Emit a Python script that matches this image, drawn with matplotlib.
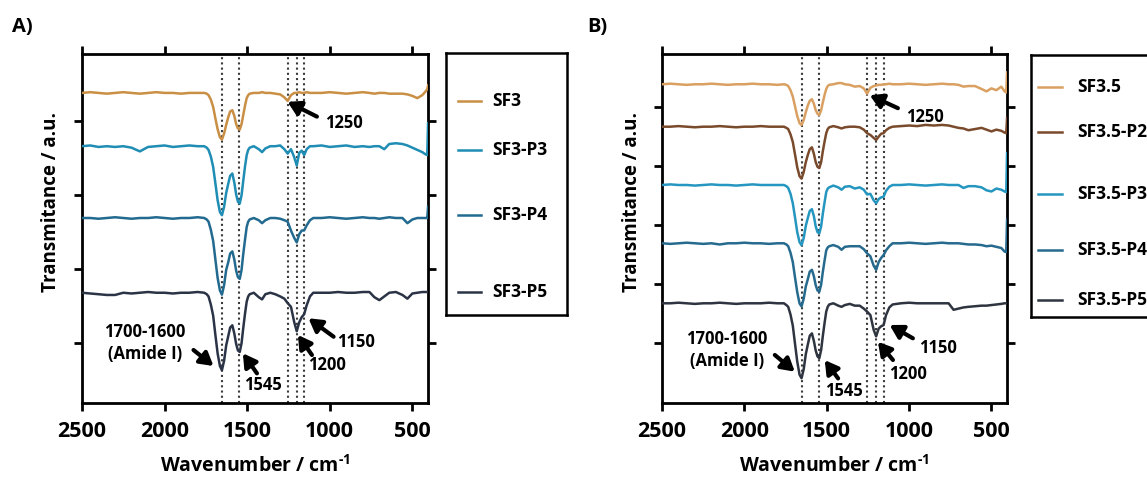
import numpy as np
import matplotlib
matplotlib.use('Agg')
import matplotlib.pyplot as plt

plt.rcParams['font.family'] = ['Open Sans', 'DejaVu Sans']
plt.rcParams['font.weight'] = 'bold'
plt.rcParams['mathtext.fontset'] = 'custom'
plt.rcParams['mathtext.rm'] = 'Open Sans:bold'
plt.rcParams['mathtext.bf'] = 'Open Sans:bold'

# ---------------- data (wavenumber grid, cm-1) ----------------
wavenumber = (
    [2500, 2450, 2400, 2350, 2300, 2250, 2200, 2150, 2100, 2050, 2000, 1950, 1900, 1850, 1800, 1760]
    + [1745, 1734, 1720, 1706, 1692, 1679, 1665, 1653, 1640, 1627, 1615, 1603, 1590, 1578, 1567, 1556,
       1545, 1534, 1524, 1513, 1503, 1494, 1485]
    + [1460, 1430, 1410, 1390, 1360, 1330, 1300, 1275, 1255, 1235, 1215, 1200, 1185, 1170, 1155, 1140, 1120, 1100]
    + [1050, 1000, 950, 900, 850, 800, 760, 730, 700, 670, 640, 600, 560, 530, 500, 470, 440, 420, 410, 405]
)

# Panel A: relative transmittance (a.u.) of each spectrum
labels_a = ['SF3', 'SF3-P3', 'SF3-P4', 'SF3-P5']
sf3 = ([0, 0.01, 0, -0.01, 0, 0.01, 0, -0.01, 0, 0.01, 0, 0, -0.01, 0, 0, 0]
       + [-0.01, -0.03, -0.09, -0.19, -0.35, -0.49, -0.60, -0.63, -0.55, -0.43, -0.33, -0.25, -0.234, -0.31, -0.42, -0.48,
          -0.495, -0.42, -0.30, -0.17, -0.07, -0.03, -0.01]
       + [0, 0, 0.01, 0, 0, -0.01, -0.02, -0.06, -0.108, -0.03, 0, 0, 0.01, 0, 0, 0.01, 0, 0]
       + [0, 0.01, 0, -0.01, 0, 0.01, 0, -0.01, 0, 0, -0.01, -0.01, -0.01, -0.02, -0.04, -0.07, -0.03, 0.02, 0.05, 0.10])
sf3_p3 = ([0, 0.01, -0.01, 0, -0.01, 0, -0.02, -0.07, -0.01, 0, 0.01, -0.01, 0, 0.01, 0, 0]
          + [-0.02, -0.05, -0.14, -0.28, -0.51, -0.73, -0.89, -0.932, -0.82, -0.63, -0.51, -0.40, -0.369, -0.49, -0.65, -0.75,
             -0.775, -0.66, -0.47, -0.27, -0.12, -0.05, -0.02]
          + [0, -0.04, -0.08, -0.03, 0, 0, 0.01, -0.04, -0.10, -0.04, -0.15, -0.26, -0.09, -0.06, -0.12, -0.04, 0, 0]
          + [0.01, -0.01, 0, 0.01, -0.01, 0, -0.01, 0, 0, -0.04, 0.03, 0.04, 0.03, 0.01, -0.02, -0.05, -0.08, -0.11, -0.12, 0.31])
sf3_p4 = ([0, 0, -0.01, 0, 0.01, 0, -0.01, 0, 0, 0.01, 0, -0.01, 0, 0, 0.01, 0]
          + [-0.02, -0.05, -0.16, -0.31, -0.57, -0.81, -0.98, -1.036, -0.91, -0.70, -0.60, -0.48, -0.451, -0.56, -0.71, -0.80,
             -0.823, -0.70, -0.49, -0.29, -0.12, -0.05, -0.02]
          + [0, -0.03, -0.07, -0.03, 0, 0, -0.01, -0.03, -0.05, -0.17, -0.27, -0.33, -0.22, -0.17, -0.167, -0.10, -0.03, 0]
          + [0, 0.01, 0, -0.01, 0, 0.01, 0, 0, -0.01, 0, 0.01, 0, 0, -0.07, -0.02, 0, 0, 0, 0, 0.15])
sf3_p5 = ([0, -0.01, -0.02, -0.03, -0.03, 0, -0.01, 0, 0.01, 0, 0, -0.01, 0, 0, 0.01, 0]
          + [-0.02, -0.05, -0.16, -0.31, -0.58, -0.82, -0.99, -1.047, -0.92, -0.71, -0.59, -0.47, -0.44, -0.55, -0.69, -0.78,
             -0.80, -0.68, -0.48, -0.28, -0.12, -0.05, -0.02]
          + [0, -0.06, -0.09, -0.02, 0, -0.02, -0.05, -0.08, -0.14, -0.19, -0.40, -0.52, -0.40, -0.33, -0.29, -0.17, -0.05, 0]
          + [0, 0, 0.01, 0, 0, 0.01, 0.01, -0.06, -0.10, -0.05, 0, 0.01, -0.03, -0.08, -0.01, 0, 0.01, 0.01, 0.01, 0.01])

# Panel B
labels_b = ['SF3.5', 'SF3.5-P2', 'SF3.5-P3', 'SF3.5-P4', 'SF3.5-P5']
sf35 = ([0, 0.01, 0, -0.01, 0, 0, 0.01, 0, -0.01, 0, 0, 0.01, 0, 0, -0.01, 0]
        + [-0.01, -0.03, -0.10, -0.21, -0.38, -0.54, -0.66, -0.69, -0.61, -0.47, -0.36, -0.28, -0.254, -0.33, -0.44, -0.50,
           -0.52, -0.44, -0.31, -0.18, -0.08, -0.03, -0.01]
        + [0, 0.02, 0.02, 0, -0.01, -0.04, -0.03, -0.07, -0.16, -0.06, -0.03, -0.02, -0.01, -0.01, 0, 0, 0.01, 0]
        + [0, 0.01, 0, -0.01, 0, 0.01, 0, 0, -0.01, -0.04, -0.03, -0.03, -0.08, -0.12, -0.07, -0.10, -0.04, -0.12, -0.14, 0.20])
sf35_p2 = ([0, 0, 0.01, 0, -0.01, 0, 0, 0.01, 0, -0.01, 0, 0, 0.01, 0, 0, 0]
           + [-0.02, -0.04, -0.13, -0.26, -0.48, -0.69, -0.84, -0.88, -0.77, -0.60, -0.48, -0.38, -0.35, -0.46, -0.60, -0.68,
              -0.70, -0.60, -0.42, -0.25, -0.11, -0.04, -0.01]
           + [0.01, -0.01, -0.03, -0.01, 0, 0, -0.01, -0.05, -0.11, -0.14, -0.19, -0.225, -0.17, -0.12, -0.11, -0.06, -0.02, 0]
           + [0.01, 0.02, 0.01, 0.03, 0.02, 0.03, 0.02, 0, -0.02, -0.03, -0.06, -0.04, -0.02, -0.05, -0.08, -0.05, -0.07, -0.10, -0.11, 0.15])
sf35_p3 = ([0, 0.01, 0, 0, -0.01, 0, 0.01, 0, 0, -0.01, 0, 0.01, 0, 0, 0, 0]
           + [-0.02, -0.05, -0.15, -0.31, -0.56, -0.80, -0.97, -1.02, -0.90, -0.69, -0.56, -0.44, -0.41, -0.53, -0.70, -0.80,
              -0.82, -0.70, -0.49, -0.29, -0.12, -0.06, -0.04]
           + [-0.01, -0.04, -0.08, -0.03, -0.02, -0.06, -0.04, -0.08, -0.16, -0.15, -0.26, -0.31, -0.24, -0.21, -0.20, -0.10, -0.03, 0]
           + [0, 0.01, 0, -0.01, 0, 0.01, 0, 0, 0, -0.05, -0.02, -0.02, -0.04, -0.09, -0.11, -0.06, -0.08, -0.11, -0.12, 0.54])
sf35_p4 = ([0, -0.01, 0, 0.01, 0, -0.01, 0, -0.02, 0, 0, 0.01, 0, 0, -0.01, 0, 0]
           + [-0.02, -0.05, -0.16, -0.32, -0.59, -0.83, -1.02, -1.07, -0.94, -0.73, -0.61, -0.48, -0.45, -0.56, -0.71, -0.80,
              -0.82, -0.70, -0.49, -0.29, -0.12, -0.07, -0.05]
           + [-0.03, -0.06, -0.11, -0.06, -0.05, -0.05, -0.05, -0.10, -0.17, -0.22, -0.38, -0.45, -0.32, -0.25, -0.20, -0.12, -0.05, 0]
           + [0, 0.01, 0, -0.01, 0, 0.01, 0, 0, 0, -0.01, -0.02, -0.02, -0.03, -0.05, -0.04, -0.06, -0.08, -0.14, -0.15, 0.40])
sf35_p5 = ([0, 0, 0.01, 0, -0.01, 0, 0, 0.01, 0, -0.01, 0, 0, 0, 0.01, 0, 0]
           + [-0.03, -0.06, -0.19, -0.38, -0.70, -0.99, -1.21, -1.27, -1.12, -0.86, -0.70, -0.55, -0.51, -0.64, -0.80, -0.90,
              -0.93, -0.79, -0.56, -0.33, -0.14, -0.06, -0.02]
           + [0, -0.04, -0.06, -0.03, -0.01, -0.04, -0.04, -0.09, -0.14, -0.20, -0.45, -0.56, -0.43, -0.39, -0.37, -0.20, -0.07, -0.02]
           + [0, 0.01, 0, 0, 0, 0, 0, -0.11, -0.09, -0.07, -0.06, -0.05, -0.04, -0.04, -0.03, -0.02, -0.01, 0, 0, 0])

# marked band positions (cm-1)
bands = [1650, 1550, 1255, 1200, 1155]

# ---------------- styling ----------------
colors_a = ['#c98f45', '#1f8db4', '#226a8f', '#2b3446']
colors_b = ['#d9a062', '#7a4a2c', '#2596bf', '#266a8e', '#2f3540']
offsets_a = [3.38, 2.66, 1.69, 0.68]
offsets_b = [4.385, 3.666, 2.678, 1.69, 0.673]

fig = plt.figure(figsize=(11.47, 4.83), dpi=100)
axA = fig.add_axes([0.0715, 0.1656, 0.3017, 0.7226])
axB = fig.add_axes([0.5772, 0.1656, 0.3008, 0.7226])

wn = np.array(wavenumber)


def style_axes(ax, yticks, ylim, ylab_x):
    ax.set_xlim(2500, 405)
    ax.set_ylim(*ylim)
    ax.set_xticks([2500, 2000, 1500, 1000, 500])
    ax.set_yticks(yticks)
    ax.tick_params(direction='out', top=True, right=True, labelleft=False,
                   length=6, width=2, labelsize=15.5, pad=7)
    for s in ax.spines.values():
        s.set_linewidth(2)
    ax.set_xlabel(r'Wavenumber / cm$^{\text{-1}}$', fontsize=14, fontweight='bold', labelpad=9)
    ax.set_ylabel('Transmitance / a.u.', fontsize=13.5, fontweight='bold')
    ax.yaxis.set_label_coords(ylab_x, 0.575)
    for b in bands:
        ax.axvline(b, color='#3a3a3a', ls=(0, (1, 1.5)), lw=1.5, zorder=1)


def arrow(ax, head, tail):
    ax.annotate('', xy=head, xytext=tail,
                arrowprops=dict(arrowstyle='-|>,head_length=0.55,head_width=0.32',
                                lw=3, color='black', shrinkA=0, shrinkB=0,
                                mutation_scale=14), zorder=5)


for vals, off, c in zip([sf3, sf3_p3, sf3_p4, sf3_p5], offsets_a, colors_a):
    axA.plot(wn, np.array(vals) + off, color=c, lw=1.8, zorder=3)
for vals, off, c in zip([sf35, sf35_p2, sf35_p3, sf35_p4, sf35_p5], offsets_b, colors_b):
    axB.plot(wn, np.array(vals) + off, color=c, lw=1.8, zorder=3)

style_axes(axA, [0, 1, 2, 3], (-0.81, 3.906), -0.06)
style_axes(axB, [0, 1, 2, 3, 4], (-1.017, 4.898), -0.058)

ann = dict(fontsize=12, fontweight='bold', ha='center', va='center')
# Panel A annotations
axA.text(912, 2.97, '1250', **ann)
arrow(axA, (1256, 3.26), (1078, 3.06))
axA.text(2118, 0.0, '1700-1600\n(Amide I)', linespacing=1.25, **ann)
arrow(axA, (1704, -0.31), (1825, -0.094))
axA.text(1403, -0.567, '1545', **ann)
arrow(axA, (1526, -0.138), (1441, -0.409))
axA.text(1015, -0.296, '1200', **ann)
arrow(axA, (1193, 0.109), (1108, -0.161))
axA.text(839, 0.014, '1150', **ann)
arrow(axA, (1129, 0.335), (977, 0.086))

# Panel B annotations
axB.text(906, 3.83, '1250', **ann)
arrow(axB, (1239, 4.20), (1068, 3.98))
axB.text(2106, -0.12, '1700-1600\n(Amide I)', linespacing=1.25, **ann)
arrow(axB, (1694, -0.486), (1815, -0.203))
axB.text(1397, -0.82, '1545', **ann)
arrow(axB, (1512, -0.29), (1431, -0.6))
axB.text(1009, -0.517, '1200', **ann)
arrow(axB, (1189, 0.02), (1098, -0.288))
axB.text(827, -0.093, '1150', **ann)
arrow(axB, (1118, 0.305), (977, 0.08))

# panel letters
fig.text(12 / 1147, 1 - 27 / 483, 'A)', fontsize=14.5, fontweight='bold', va='center')
fig.text(587 / 1147, 1 - 27 / 483, 'B)', fontsize=14.5, fontweight='bold', va='center')


# legends drawn as boxed panels
def legend_box(rect, labels, colors, ys, x0, x1, xt):
    lg = fig.add_axes(rect)
    lg.set_xlim(0, 1)
    lg.set_ylim(0, 1)
    lg.set_xticks([])
    lg.set_yticks([])
    for s in lg.spines.values():
        s.set_linewidth(1.8)
    for lab, c, y in zip(labels, colors, ys):
        lg.plot([x0, x1], [y, y], color=c, lw=1.8)
        lg.text(xt, y, lab, fontsize=12.5, fontweight='bold', va='center', ha='left')


legend_box([446 / 1147, 1 - 315 / 483, 121 / 1147, 262 / 483], labels_a, colors_a,
           [0.817, 0.630, 0.382, 0.088], 0.099, 0.289, 0.38)
legend_box([1031 / 1147, 1 - 317 / 483, 130 / 1147, 262 / 483], labels_b, colors_b,
           [0.878, 0.706, 0.469, 0.256, 0.065], 0.054, 0.238, 0.354)

fig.savefig('out.png', dpi=100)
